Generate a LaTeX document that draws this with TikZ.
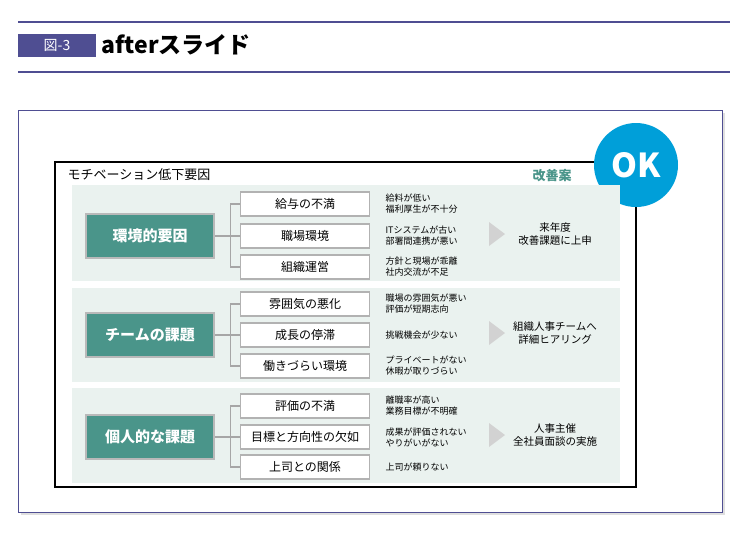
\documentclass[tikz,border=0pt]{standalone}
\usepackage{fontspec}
\setmainfont{Noto Sans CJK JP}
\usetikzlibrary{positioning,shadows}
\definecolor{hdrblue}{HTML}{4F4E92}
\definecolor{bandgreen}{HTML}{EAF2EF}
\definecolor{causeteal}{HTML}{4A958A}
\definecolor{okblue}{HTML}{009FD9}
\tikzset{
  band/.style={fill=bandgreen,draw=none},
  causebox/.style={draw=gray!55,line width=1.2pt,fill=causeteal,text=white,font=\bfseries\fontsize{15}{15}\selectfont,minimum width=128pt,minimum height=44pt},
  itembox/.style={draw=gray!60,line width=1.2pt,fill=white,font=\fontsize{12}{12}\selectfont,minimum width=129pt,minimum height=24pt},
  detail/.style={anchor=west,align=left,font=\fontsize{9}{11}\selectfont},
  result/.style={align=center,font=\fontsize{10.5}{13}\selectfont},
  link/.style={draw=gray!70,line width=1.2pt},
}
\begin{document}
\begin{tikzpicture}[x=1pt,y=-1pt]
				\useasboundingbox (0,0) rectangle (750,539);
				% header
				\draw [hdrblue,line width=1.2pt] (18,22) -- (730,22);
				\draw [hdrblue,line width=1.2pt] (18,72) -- (730,72);
				\node (fig) [fill=hdrblue,text=white,minimum width=78pt,minimum height=23pt,font=\fontsize{14}{14}\selectfont] at (57,45) {図-3};
				\node (ttl) [anchor=west,font=\bfseries\fontsize{23}{23}\selectfont] at (98,45) {afterスライド};
				% frames
				\draw [hdrblue,line width=1pt,fill=white,drop shadow={opacity=0.25}] (18,110) rectangle (722,512);
				\draw [black,line width=1.3pt] (55,162) rectangle (636,487);
				\node (head) [anchor=west,font=\fontsize{13}{13}\selectfont] at (64,175) {モチベーション低下要因};
				\node (plan) [text=causeteal,font=\bfseries\fontsize{13}{13}\selectfont] at (552,176) {改善案};
				\node (ok) [circle,fill=okblue,minimum size=84pt,text=white,font=\bfseries\fontsize{33}{33}\selectfont] at (636,165) {OK};
				% band 1
				\fill [band] (72,185) rectangle (620,281);
				\node (c1) [causebox] at (150,236) {環境的要因};
				\node (a1) [itembox] at (305,204) {給与の不満};
				\node (a2) [itembox] at (305,236) {職場環境};
				\node (a3) [itembox] at (305,267) {組織運営};
				\node [detail] at (382,204) {給料が低い\\福利厚生が不十分};
				\node [detail] at (382,236) {ITシステムが古い\\部署間連携が悪い};
				\node [detail] at (382,267) {方針と現場が乖離\\社内交流が不足};
				\node (r1) [result] at (555,234) {来年度\\改善課題に上申};
				% band 2
				\fill [band] (72,288) rectangle (620,382);
				\node (c2) [causebox] at (150,335) {チームの課題};
				\node (b1) [itembox] at (305,304) {雰囲気の悪化};
				\node (b2) [itembox] at (305,335) {成長の停滞};
				\node (b3) [itembox] at (305,366) {働きづらい環境};
				\node [detail] at (382,304) {職場の雰囲気が悪い\\評価が短期志向};
				\node [detail] at (382,335) {挑戦機会が少ない};
				\node [detail] at (382,366) {プライベートがない\\休暇が取りづらい};
				\node (r2) [result] at (555,333) {組織人事チームへ\\詳細ヒアリング};
				% band 3
				\fill [band] (72,388) rectangle (620,483);
				\node (c3) [causebox] at (150,437) {個人的な課題};
				\node (d1) [itembox] at (305,406) {評価の不満};
				\node (d2) [itembox] at (305,437) {目標と方向性の欠如};
				\node (d3) [itembox] at (305,467) {上司との関係};
				\node [detail] at (382,406) {離職率が高い\\業務目標が不明確};
				\node [detail] at (382,437) {成果が評価されない\\やりがいがない};
				\node [detail] at (382,467) {上司が頼りない};
				\node (r3) [result] at (555,435) {人事主催\\全社員面談の実施};
				% connectors
				\foreach \c/\x/\y/\z in {c1/a1/a2/a3,c2/b1/b2/b3,c3/d1/d2/d3} {
					\draw [link] (\c.east) -- ++(16,0) coordinate (m);
					\draw [link] (\x.west) -| (m) |- (\z.west);
					\draw [link] (\y.west) -- (m |- \y.west);
				}
				% arrows
				\foreach \r in {r1,r2,r3}
					\fill [gray!35] ([xshift=-66pt,yshift=-12pt]\r.center) -- ++(16,-12) -- ++(-16,-12) -- cycle;
			\end{tikzpicture}
\end{document}
